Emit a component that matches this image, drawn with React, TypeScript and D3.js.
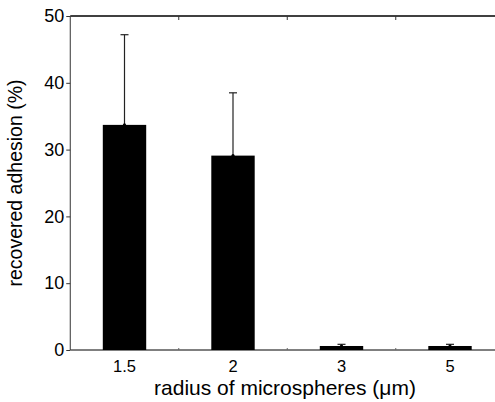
import React, { useEffect, useRef } from "react";
import * as d3 from "d3";

const radii = ["1.5", "2", "3", "5"];
const adhesion = [33.7, 29.1, 0.6, 0.6];
const errors = [13.5, 9.4, 0.25, 0.25];
const yTicks = [0, 10, 20, 30, 40, 50];

const App = () => {
  const svgRef = useRef<SVGSVGElement>(null);

  useEffect(() => {
    const svg = d3.select(svgRef.current);
    svg.selectAll("*").remove();

    const width = 495;
    const height = 402;
    const margin = { top: 16, right: -9.25, bottom: 52, left: 70.25 };
    const font = "'Liberation Sans', Arial, Helvetica, sans-serif";

    const x = d3
      .scaleBand()
      .domain(radii)
      .range([margin.left, width - margin.right])
      .paddingInner(0.6)
      .paddingOuter(0.3);

    const y = d3
      .scaleLinear()
      .domain([0, 50])
      .range([height - margin.bottom, margin.top]);

    const data = radii.map((r, i) => ({ r, v: adhesion[i], e: errors[i] }));

    // bars
    svg.append("g")
      .selectAll("rect")
      .data(data)
      .enter()
      .append("rect")
      .attr("x", d => x(d.r))
      .attr("width", x.bandwidth())
      .attr("y", d => y(d.v))
      .attr("height", d => y(0) - y(d.v))
      .attr("fill", "#000");

    // error bars
    const eb = svg.append("g").attr("stroke", "#222").attr("stroke-width", 1.2);
    data.forEach(d => {
      const cx = x(d.r) + x.bandwidth() / 2;
      eb.append("line")
        .attr("x1", cx).attr("x2", cx)
        .attr("y1", y(d.v)).attr("y2", y(d.v + d.e));
      eb.append("line")
        .attr("x1", cx - 4).attr("x2", cx + 4)
        .attr("y1", y(d.v + d.e)).attr("y2", y(d.v + d.e));
      svg.append("circle")
        .attr("cx", cx).attr("cy", y(d.v))
        .attr("r", 1.6).attr("fill", "#000");
    });

    // frame lines
    const x0 = margin.left;
    const x1 = width - margin.right;
    svg.append("line")
      .attr("x1", x0).attr("x2", x1)
      .attr("y1", y(50)).attr("y2", y(50))
      .attr("stroke", "#000").attr("stroke-width", 1.6);
    svg.append("line")
      .attr("x1", x0).attr("x2", x1)
      .attr("y1", y(0)).attr("y2", y(0))
      .attr("stroke", "#000").attr("stroke-width", 1);
    svg.append("line")
      .attr("x1", x0).attr("x2", x0)
      .attr("y1", y(0)).attr("y2", y(50))
      .attr("stroke", "#333").attr("stroke-width", 1);

    // minor ticks between bars, top and bottom
    const between = radii.slice(1).map((r, i) => {
      const a = x(radii[i]) + x.bandwidth() / 2;
      const b = x(r) + x.bandwidth() / 2;
      return (a + b) / 2;
    });
    between.forEach(bx => {
      svg.append("line")
        .attr("x1", bx).attr("x2", bx)
        .attr("y1", y(50)).attr("y2", y(50) + 4)
        .attr("stroke", "#333");
      svg.append("line")
        .attr("x1", bx).attr("x2", bx)
        .attr("y1", y(0)).attr("y2", y(0) - 2)
        .attr("stroke", "#666");
    });

    // y axis
    const yAxis = svg.append("g")
      .attr("transform", `translate(${margin.left},0)`)
      .call(d3.axisLeft(y).tickValues(yTicks).tickSize(4).tickPadding(2));
    yAxis.select(".domain").remove();
    yAxis.selectAll(".tick line").attr("stroke", "#333");
    yAxis.selectAll(".tick text")
      .attr("font-family", font)
      .attr("font-size", 18)
      .attr("fill", "#000");

    // x labels
    svg.append("g")
      .selectAll("text")
      .data(radii)
      .enter()
      .append("text")
      .attr("x", d => x(d) + x.bandwidth() / 2)
      .attr("y", y(0) + 21.5)
      .attr("text-anchor", "middle")
      .attr("font-family", font)
      .attr("font-size", 16.5)
      .text(d => d);

    svg.append("text")
      .attr("x", 285)
      .attr("y", 395)
      .attr("text-anchor", "middle")
      .attr("font-family", font)
      .attr("font-size", 21)
      .text("radius of microspheres (\u03bcm)");

    svg.append("text")
      .attr("transform", `translate(22,${(y(0) + y(50)) / 2}) rotate(-90)`)
      .attr("text-anchor", "middle")
      .attr("font-family", font)
      .attr("font-size", 19.5)
      .text("recovered adhesion (%)");
  }, []);

  return (
    <svg
      ref={svgRef}
      width={495}
      height={402}
      style={{ position: "absolute", left: 0, top: 0, background: "#fff" }}
    ></svg>
  );
};

export default App;
